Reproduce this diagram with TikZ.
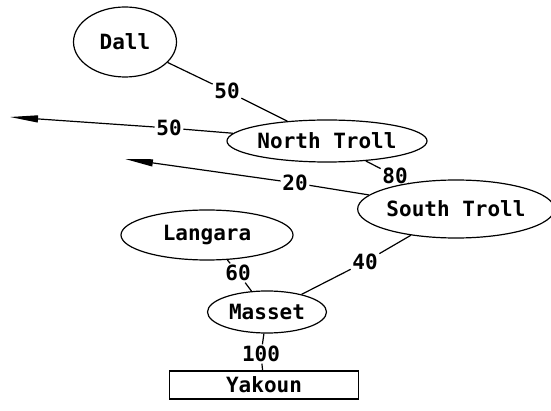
\documentclass[tikz,border=0pt]{standalone}
\usepackage{fontspec}
\setmonofont{DejaVu Sans Mono}
\usetikzlibrary{shapes.geometric,arrows.meta}
\begin{document}
\begin{tikzpicture}[x=1pt,y=-1pt,
  every node/.style={font=\ttfamily\bfseries\fontsize{21}{21}\selectfont},
  site/.style={ellipse,draw,line width=1.2pt,inner sep=0pt},
  wt/.style={inner sep=1.5pt},
  link/.style={line width=1.2pt},
  outlink/.style={line width=1.2pt,-{Triangle[length=28pt,width=7pt]}}]
\useasboundingbox (0,0) rectangle (551,411);
\node[site,minimum width=103pt,minimum height=70pt] (dall) at (125,42) {Dall};
\node[site,minimum width=200pt,minimum height=42pt] (nt) at (327,141) {North Troll};
\node[site,minimum width=186pt,minimum height=58pt] (st) at (456,209) {South Troll};
\node[site,minimum width=172pt,minimum height=50pt] (lan) at (207,235) {Langara};
\node[site,minimum width=119pt,minimum height=42pt] (mas) at (267,312) {Masset};
\node[draw,line width=1.2pt,minimum width=189pt,minimum height=28pt,inner sep=0pt] (yak) at (264,385) {Yakoun};
\node[wt] (w1) at (227,91) {50};
\node[wt] (w2) at (169,128) {50};
\node[wt] (w3) at (295,183) {20};
\node[wt] (w4) at (395,176) {80};
\node[wt] (w5) at (365,262) {40};
\node[wt] (w6) at (238,273) {60};
\node[wt] (w7) at (261,354) {100};
\coordinate (e1) at (10,117);
\coordinate (e2) at (125,159);
\draw[link] (dall) -- (w1) -- (nt);
\draw[link] (nt) -- (w2);
\draw[outlink] (w2) -- (e1);
\draw[link] (st) -- (w3);
\draw[outlink] (w3) -- (e2);
\draw[link] (nt) -- (w4) -- (st);
\draw[link] (st) -- (w5) -- (mas);
\draw[link] (lan) -- (w6) -- (mas);
\draw[link] (mas) -- (w7) -- (yak);
\end{tikzpicture}
\end{document}
